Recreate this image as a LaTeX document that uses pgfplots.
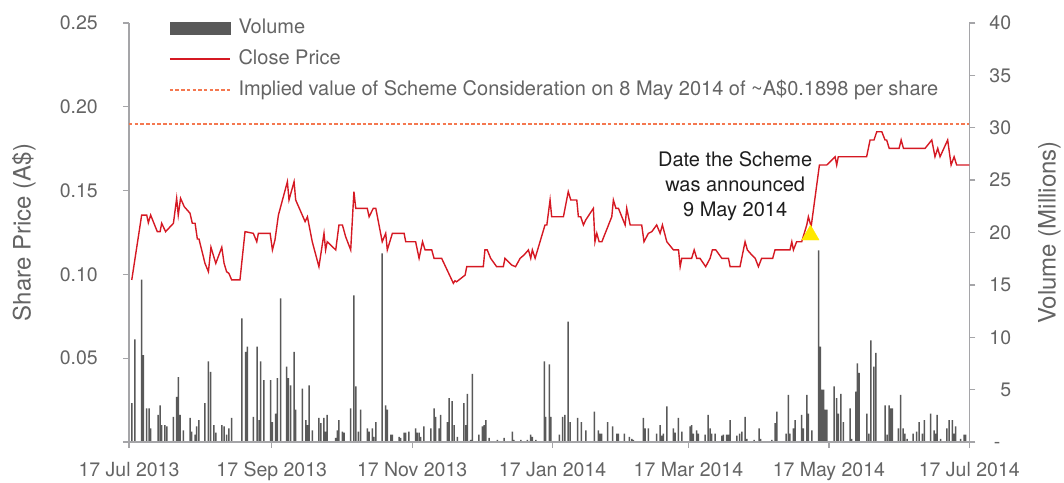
\documentclass[border=0pt]{standalone}
\usepackage{fontspec}
\setmainfont{TeX Gyre Heros}
\usepackage{pgfplots}
\pgfplotsset{compat=1.18}
\usepackage{pgfplotstable}
\definecolor{barc}{RGB}{89,89,89}
\definecolor{pricec}{RGB}{213,25,35}
\definecolor{dashc}{RGB}{244,120,80}
\definecolor{axc}{RGB}{165,165,168}
\definecolor{txtc}{RGB}{100,100,100}
\definecolor{annc}{RGB}{30,30,30}
\definecolor{trc}{RGB}{255,232,0}

\pgfplotstableread{
day price
1.2 0.0967
5.5 0.1354
7.7 0.1354
8.4 0.1308
9.4 0.1354
12.3 0.1255
13.5 0.1255
14.2 0.1305
15.9 0.1255
19.3 0.1305
20.7 0.1454
21.4 0.1354
22.4 0.1454
24.0 0.1404
26.5 0.1365
27.5 0.1305
28.7 0.1305
29.7 0.1211
30.4 0.1211
33.0 0.1066
34.5 0.1016
35.6 0.1162
37.7 0.1066
40.3 0.1162
41.3 0.1066
42.4 0.1016
43.4 0.1006
44.6 0.0967
48.2 0.0967
50.4 0.1255
54.0 0.1245
55.5 0.1195
56.2 0.1245
61.3 0.1245
62.3 0.1146
63.4 0.1205
64.9 0.1354
68.8 0.1553
69.5 0.1444
71.7 0.1553
72.4 0.1444
76.5 0.1315
77.5 0.1344
79.6 0.1195
82.5 0.1046
84.7 0.1245
85.4 0.1146
86.1 0.1195
89.8 0.1146
91.2 0.1295
92.7 0.1295
94.1 0.1225
96.3 0.1146
97.7 0.1494
98.5 0.1394
103.5 0.1394
104.3 0.1344
106.1 0.1394
107.2 0.1394
110.0 0.1195
111.5 0.1245
112.2 0.1146
114.4 0.1245
119.5 0.1245
120.2 0.1195
124.5 0.1195
126.0 0.1096
127.5 0.1195
128.6 0.1146
131.5 0.1146
132.5 0.1096
135.8 0.1096
140.9 0.0947
141.6 0.0962
142.3 0.0956
146.0 0.0996
146.7 0.1046
153.9 0.1046
154.6 0.1146
155.6 0.1146
157.1 0.1096
159.7 0.1046
162.6 0.1046
163.3 0.1096
166.2 0.1056
167.9 0.1046
169.9 0.1096
171.6 0.1116
173.5 0.1146
174.5 0.1096
175.2 0.1146
176.4 0.1096
180.7 0.1295
181.5 0.1295
182.9 0.1444
183.6 0.1344
188.7 0.1344
190.8 0.1494
191.9 0.1444
194.5 0.1444
195.2 0.1344
196.2 0.1344
197.4 0.1295
198.4 0.1325
201.7 0.1394
202.4 0.1195
203.2 0.1245
204.2 0.1195
205.4 0.1195
209.7 0.1344
210.4 0.1444
211.5 0.1394
212.6 0.1394
215.5 0.1295
216.2 0.1394
217.7 0.1295
222.7 0.1295
223.7 0.1195
225.6 0.1245
227.1 0.1255
229.2 0.1295
230.7 0.1245
231.7 0.1295
233.6 0.1195
236.5 0.1146
238.7 0.1146
239.4 0.1046
240.1 0.1096
244.4 0.1096
245.5 0.1146
246.6 0.1096
248.0 0.1096
250.5 0.1046
252.4 0.1096
253.4 0.1146
254.9 0.1146
257.5 0.1096
260.4 0.1096
261.1 0.1046
265.4 0.1046
267.6 0.1195
268.6 0.1146
270.5 0.1116
272.0 0.1096
273.4 0.1046
274.8 0.1096
279.6 0.1096
280.6 0.1146
287.1 0.1146
287.9 0.1195
288.6 0.1146
290.0 0.1195
292.2 0.1195
294.4 0.1295
295.1 0.1344
296.3 0.1285
299.9 0.1653
303.1 0.1653
306.7 0.1702
307.4 0.1653
308.1 0.1702
320.4 0.1702
321.9 0.1802
323.6 0.1802
324.8 0.1851
327.0 0.1851
328.4 0.1802
329.1 0.1802
330.2 0.1752
334.5 0.1752
335.4 0.1802
336.4 0.1752
345.8 0.1752
348.7 0.1802
350.1 0.1702
351.3 0.1752
352.3 0.1702
355.6 0.1802
357.1 0.1653
358.4 0.1702
359.5 0.1653
365.0 0.1653
}\pricedata

\pgfplotstableread{
day vol
1.2 3.7
2.6 9.8
5.5 15.5
6.2 8.3
7.7 3.2
8.7 3.2
9.4 1.3
12.7 2.6
13.5 3.5
14.2 1.6
15.6 1.6
16.4 1.5
19.3 2.4
20.7 4.3
21.4 6.2
22.2 2.6
23.6 1.1
26.5 2.3
27.2 1.0
28.7 0.7
29.4 1.5
30.4 2.1
33.0 3.7
34.5 7.7
35.5 6.7
36.9 1.6
37.7 0.9
40.3 1.6
41.3 1.5
42.4 0.7
43.4 1.3
44.6 2.3
49.0 11.8
50.7 8.6
51.4 9.1
54.0 2.4
55.7 9.1
56.5 2.1
57.2 7.7
58.6 5.9
61.5 5.9
62.3 1.9
63.7 2.7
64.4 6.1
65.9 13.7
68.5 7.2
69.2 6.1
70.2 5.4
71.7 8.6
72.4 3.1
75.3 5.1
76.8 2.1
77.5 1.6
78.2 5.4
79.6 1.1
82.5 2.3
83.3 1.8
84.7 2.3
85.4 1.0
86.1 2.6
89.8 0.4
90.5 1.1
91.2 2.1
92.7 1.0
93.4 0.9
96.3 3.2
97.7 14.0
98.5 5.3
99.6 1.0
100.6 3.1
103.5 1.3
104.3 1.0
105.7 1.3
106.4 0.5
107.2 1.9
110.0 18.0
111.5 3.5
112.2 3.1
113.7 0.7
114.4 0.7
117.3 0.5
118.0 0.4
119.5 0.9
120.2 0.9
121.6 1.0
124.5 1.3
125.2 0.9
126.0 0.9
126.7 0.5
128.1 1.5
131.1 1.3
132.5 3.2
133.2 2.4
134.7 1.3
135.4 2.6
138.3 1.9
139.0 4.2
140.4 3.9
141.2 1.6
142.6 0.5
145.5 3.7
146.3 1.6
147.0 4.6
148.4 0.2
149.1 6.5
152.0 0.7
153.5 1.5
154.2 1.6
155.0 2.1
156.4 0.4
160.0 0.2
162.9 0.4
166.5 1.0
167.2 0.2
170.2 0.2
173.0 0.2
174.5 0.7
175.2 0.5
176.7 0.2
180.4 7.7
181.0 2.4
182.6 7.4
183.2 2.4
186.9 0.7
188.4 2.4
189.3 2.6
190.7 11.5
191.6 1.9
194.9 2.3
196.5 1.9
198.5 1.1
202.1 2.9
203.9 1.1
204.6 0.8
205.3 0.8
207.9 1.9
210.1 1.5
211.9 0.8
212.6 0.8
215.2 0.8
217.3 0.5
218.4 0.3
219.1 0.2
223.4 2.3
224.2 1.3
225.6 1.3
229.2 0.8
230.7 1.6
231.4 0.6
232.1 0.8
233.6 3.4
236.5 1.3
237.2 0.9
238.6 2.3
240.1 1.0
243.7 1.5
244.4 1.6
245.1 0.8
246.6 1.1
247.3 0.8
250.2 0.7
251.6 2.6
252.4 1.3
253.1 0.8
254.6 0.8
257.5 0.6
258.2 0.7
259.6 0.7
260.4 0.7
261.1 2.1
264.0 0.6
265.2 0.8
266.2 1.0
267.6 2.4
268.4 0.3
271.5 0.2
273.7 1.3
274.4 0.3
279.2 0.2
280.6 1.8
281.4 2.9
285.4 0.8
286.4 4.5
287.1 0.8
288.6 1.3
289.3 2.1
292.2 2.6
292.9 1.3
294.4 4.5
295.1 2.7
296.6 1.1
299.6 18.3
300.3 9.1
301.0 5.0
301.7 5.0
302.4 3.1
303.1 3.1
306.3 5.3
307.4 4.2
308.1 2.7
309.2 4.6
310.3 1.9
313.2 3.2
313.9 0.3
315.7 4.8
316.4 7.5
317.1 6.6
320.5 2.7
321.4 0.8
322.2 9.7
323.6 7.2
324.4 8.5
328.4 3.5
329.3 0.7
330.2 3.5
330.9 3.2
331.6 3.2
334.2 1.3
335.2 4.5
336.3 1.3
337.0 0.8
338.0 0.3
340.6 0.8
342.1 1.0
343.2 1.9
344.6 0.8
345.5 2.1
348.2 2.7
349.7 1.1
350.4 0.8
351.0 2.6
352.5 0.3
355.3 1.3
356.2 2.1
357.6 2.1
358.4 0.8
359.1 1.5
361.2 0.3
362.7 0.7
363.4 0.7
}\voldata

\begin{document}
\begin{tikzpicture}
\path[use as bounding box] (-129bp,-41bp) rectangle (935bp,442bp);
\pgfplotsset{
  base/.style={
    scale only axis, width=840.3bp, height=419bp,
    at={(0,0)}, anchor=south west,
    xmin=0, xmax=365,
    axis line style={draw=axc, line width=1.3bp},
    tick style={draw=axc, line width=1.3bp},
    major tick length=6bp,
    tick align=outside,
    tick label style={font=\fontsize{19.5bp}{23bp}\selectfont, text=txtc, inner sep=0pt},
    label style={font=\fontsize{24bp}{28bp}\selectfont, text=txtc},
    /pgf/number format/assume math mode=true,
  }
}
% ---- volume axis (right)
\begin{axis}[base,
  axis x line=none, axis y line*=right,
  ymin=0, ymax=40,
  ytick={0,5,10,15,20,25,30,35,40},
  yticklabels={{-\phantom{0}},5,10,15,20,25,30,35,40},
  yticklabel style={anchor=east, xshift=36bp},
  ylabel={Volume (Millions)},
  ylabel style={at={(axis description cs:1.0952,0.5)}, anchor=center},
]
\addplot[ybar, bar width=1.5bp, fill=barc, draw=none] table[x=day, y=vol] {\voldata};
\end{axis}
% ---- price axis (left)
\begin{axis}[base,
  axis x line*=bottom, axis y line*=left,
  ymin=0, ymax=0.25,
  ytick={0,0.05,0.10,0.15,0.20,0.25},
  yticklabels={,0.05,0.10,0.15,0.20,0.25},
  yticklabel style={anchor=east, xshift=-25bp},
  xtick={0,62,123,184,243,304,365},
  xticklabels={17 Jul 2013,17 Sep 2013,17 Nov 2013,17 Jan 2014,17 Mar 2014,17 May 2014,17 Jul 2014},
  xticklabel style={anchor=north, text height=14bp, yshift=-14bp},
  ylabel={Share Price (A\$)},
  ylabel style={at={(axis description cs:-0.1250,0.5)}, anchor=center},
  legend image code/.code={\draw[#1] (0bp,0bp) -- (60bp,0bp);},
  legend cell align=left,
  legend style={at={(axis description cs:0,1)}, anchor=north west, xshift=40bp, yshift=5bp,
    draw=none, fill=none, inner sep=0pt, outer sep=0pt,
    /tikz/row sep=11bp, /tikz/column sep=8bp,
    font=\fontsize{20bp}{24bp}\selectfont, text=txtc,
    nodes={inner sep=0pt, text height=16bp, text depth=4bp}},
]
\addlegendimage{legend image code/.code={\fill[barc] (0bp,-6bp) rectangle (60bp,6bp);}}
\addlegendentry{Volume}
\addplot[pricec, line width=1.4bp] table[x=day, y=price] {\pricedata};
\addlegendentry{Close Price}
\addplot[dashc, line width=1.5bp, dash pattern=on 3.5bp off 2.2bp] coordinates {(0,0.1898) (365,0.1898)};
\addlegendentry{Implied value of Scheme Consideration on 8 May 2014 of \char`\~A\$0.1898 per share}
\addplot[only marks, mark=triangle*, mark size=10bp, color=trc, forget plot] coordinates {(296,0.1235)};
\node[align=center, font=\fontsize{20bp}{25bp}\selectfont, text=annc] at (axis cs:263.3,0.1527) {Date the Scheme\\was announced\\9 May 2014};
\end{axis}
\end{tikzpicture}
\end{document}
